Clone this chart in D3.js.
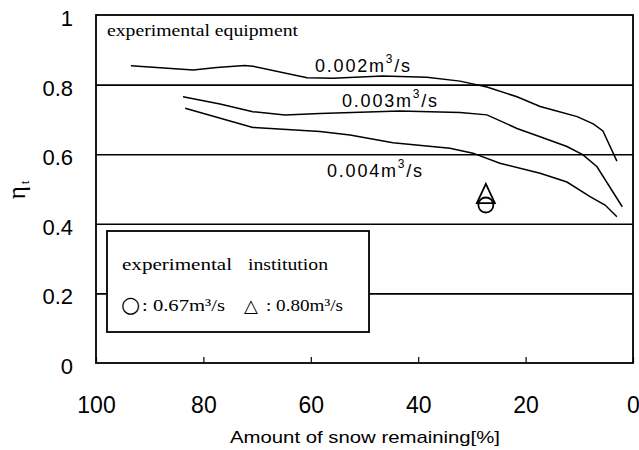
<!DOCTYPE html>
<html>
<head>
<meta charset="utf-8">
<script src="https://cdn.jsdelivr.net/npm/d3@7"></script>
<style>
  body { margin: 0; background: #fff; }
  svg { display: block; }
</style>
</head>
<body>
<div id="chart"></div>
<script>
// Datos
const snow002 = [93.5, 81.9, 77.5, 72.3, 70.8, 60.7, 55.9, 46.6, 38.4, 32.2, 27.2, 21.6, 17.3, 14.9, 10.4, 7.4, 5.6, 3.0]
const eta002 = [0.854, 0.842, 0.849, 0.855, 0.853, 0.820, 0.818, 0.825, 0.821, 0.810, 0.793, 0.765, 0.737, 0.727, 0.708, 0.687, 0.667, 0.580]

const snow003 = [83.8, 76.9, 70.8, 64.8, 58.3, 43.4, 32.2, 27.2, 21.6, 17.3, 12.3, 9.3, 6.7, 2.0]
const eta003 = [0.765, 0.744, 0.722, 0.713, 0.717, 0.724, 0.720, 0.713, 0.674, 0.650, 0.622, 0.598, 0.564, 0.449]

const snow004 = [83.4, 70.8, 58.3, 52.7, 44.7, 34.1, 29.8, 24.8, 17.3, 12.3, 8.0, 5.2, 3.0]
const eta004 = [0.732, 0.677, 0.665, 0.655, 0.633, 0.617, 0.603, 0.574, 0.545, 0.520, 0.478, 0.454, 0.420]

// experimental institution (circle: 0.67 m3/s, triangle: 0.80 m3/s)
const institutionSnow = [27.4, 27.4]
const institutionEta = [0.454, 0.487]

const xTicks = [100, 80, 60, 40, 20, 0]
const yTicks = [0, 0.2, 0.4, 0.6, 0.8, 1]
const gridTicks = [0.2, 0.4, 0.6, 0.8]

const W = 639, H = 450
const mLeft = 96, mRight = 633, mTop = 15, mBottom = 363

const SVG = d3.select("#chart")
    .append("svg")
    .attr("width", W)
    .attr("height", H)

const escalaX = d3.scaleLinear().domain([100, 0]).range([mLeft, mRight])
const escalaY = d3.scaleLinear().domain([0, 1]).range([mBottom, mTop])

const sans = "'Liberation Sans', Arial, sans-serif"
const serif = "'Liberation Serif', 'Times New Roman', serif"

// líneas de grilla
SVG.append("g")
    .attr("transform", `translate(${mLeft},0)`)
    .call(d3.axisLeft(escalaY).tickValues(gridTicks).tickSize(-(mRight - mLeft)).tickFormat(""))
    .call(g => g.select(".domain").remove())
    .call(g => g.selectAll("line").attr("stroke", "#000").attr("stroke-width", 1.6))

// eje x: ticks hacia adentro
SVG.append("g")
    .attr("transform", `translate(0,${mBottom})`)
    .call(d3.axisBottom(escalaX).tickValues(xTicks).tickSizeInner(-6).tickSizeOuter(0).tickPadding(34).tickFormat(d3.format("d")))
    .call(g => g.select(".domain").remove())
    .call(g => g.selectAll("line").attr("stroke", "#000").attr("stroke-width", 1.2))
    .call(g => g.selectAll("text").attr("font-family", sans).attr("font-size", 23).attr("fill", "#000"))

// eje y
SVG.append("g")
    .attr("transform", `translate(${mLeft},0)`)
    .call(d3.axisLeft(escalaY).tickValues(yTicks).tickSize(0).tickPadding(23).tickFormat(d => d == 0 || d == 1 ? d : d3.format(".1f")(d)))
    .call(g => g.select(".domain").remove())
    .call(g => g.selectAll("text").attr("font-family", sans).attr("font-size", 22).attr("dy", "0.48em").attr("fill", "#000"))

// marco
SVG.append("rect")
    .attr("x", mLeft).attr("y", mTop)
    .attr("width", mRight - mLeft).attr("height", mBottom - mTop)
    .attr("fill", "none").attr("stroke", "#000").attr("stroke-width", 1.8)

// curvas
const linea = d3.line().x(d => escalaX(d[0])).y(d => escalaY(d[1]))
const series = [
    { name: "0.002", snow: snow002, eta: eta002 },
    { name: "0.003", snow: snow003, eta: eta003 },
    { name: "0.004", snow: snow004, eta: eta004 }
]
SVG.selectAll(".curva")
    .data(series)
    .join("path")
    .attr("class", "curva")
    .attr("d", d => linea(d.snow.map((s, i) => [s, d.eta[i]])))
    .attr("fill", "none")
    .attr("stroke", "#000")
    .attr("stroke-width", 1.5)

// etiquetas de las curvas
const etiquetas = [
    { text: "0.002", x: 315, y: 72 },
    { text: "0.003", x: 342, y: 107 },
    { text: "0.004", x: 327, y: 177 }
]
etiquetas.forEach(e => {
    const t = SVG.append("text")
        .attr("x", e.x).attr("y", e.y)
        .attr("font-family", sans).attr("font-size", 18)
        .attr("textLength", 95).attr("lengthAdjust", "spacing")
    t.append("tspan").text(e.text + "m")
    t.append("tspan").attr("dy", -9).attr("font-size", 12).text("3")
    t.append("tspan").attr("dy", 9).text("/s")
})

// puntos de la institución
const cx = escalaX(institutionSnow[0]), cy = escalaY(institutionEta[0])
SVG.append("circle")
    .attr("cx", cx).attr("cy", cy).attr("r", 7.5)
    .attr("fill", "none").attr("stroke", "#000").attr("stroke-width", 1.8)
const tx = escalaX(institutionSnow[1]), ty = escalaY(institutionEta[1])
SVG.append("path")
    .attr("d", `M${tx},${ty - 9.7}L${tx + 9},${ty + 9.7}L${tx - 9},${ty + 9.7}Z`)
    .attr("fill", "none").attr("stroke", "#000").attr("stroke-width", 1.8)

// texto superior
SVG.append("text")
    .attr("x", 107).attr("y", 36)
    .attr("font-family", serif).attr("font-size", 16)
    .attr("textLength", 191).attr("lengthAdjust", "spacingAndGlyphs")
    .text("experimental equipment")

// caja de leyenda
SVG.append("rect")
    .attr("x", 107).attr("y", 231)
    .attr("width", 262).attr("height", 101)
    .attr("fill", "#fff").attr("stroke", "#000").attr("stroke-width", 1.8)

SVG.append("text")
    .attr("x", 122).attr("y", 270)
    .attr("font-family", serif).attr("font-size", 16)
    .attr("textLength", 110).attr("lengthAdjust", "spacingAndGlyphs")
    .text("experimental")
SVG.append("text")
    .attr("x", 248).attr("y", 270)
    .attr("font-family", serif).attr("font-size", 16)
    .attr("textLength", 80).attr("lengthAdjust", "spacingAndGlyphs")
    .text("institution")

// símbolos y caudales de la institución
const leyenda = [
    { symbol: "○", value: ": 0.67m³/s", x: 121, xv: 142, len: 83 },
    { symbol: "△", value: ": 0.80m³/s", x: 244, xv: 266, len: 77 }
]
leyenda.forEach(l => {
    SVG.append("text")
        .attr("x", l.x).attr("y", 312)
        .attr("font-family", "'DejaVu Sans', sans-serif").attr("font-size", l.symbol == "○" ? 22 : 18)
        .text(l.symbol)
    SVG.append("text")
        .attr("x", l.xv).attr("y", 311)
        .attr("font-family", serif).attr("font-size", 17)
        .attr("textLength", l.len).attr("lengthAdjust", "spacingAndGlyphs")
        .text(l.value)
})

// títulos de ejes
SVG.append("text")
    .attr("x", 365).attr("y", 443)
    .attr("text-anchor", "middle")
    .attr("font-family", sans).attr("font-size", 17)
    .attr("textLength", 270).attr("lengthAdjust", "spacingAndGlyphs")
    .text("Amount of snow remaining[%]")

const yt = SVG.append("text")
    .attr("transform", "translate(25,190) rotate(-90)")
    .attr("text-anchor", "middle")
    .attr("font-family", serif).attr("font-size", 25)
yt.append("tspan").text("η")
yt.append("tspan").attr("dy", 4).attr("dx", 2).attr("font-size", 13).text("t")
</script>
</body>
</html>
